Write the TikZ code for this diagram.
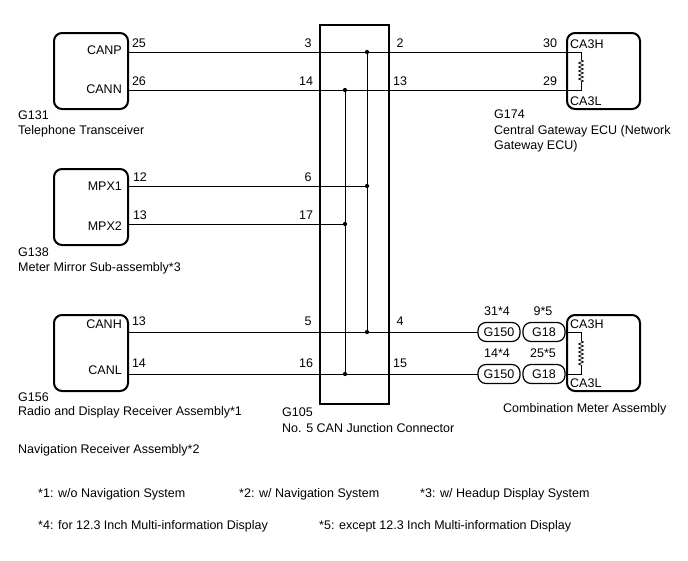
\documentclass[tikz,border=0pt]{standalone}
\usepackage{fontspec}
\setmainfont{Liberation Sans}
\usetikzlibrary{decorations.pathmorphing}
\begin{document}
\begin{tikzpicture}[x=1pt,y=-1pt,
 box/.style={draw,line width=2pt,rounded corners=8pt},
 w/.style={line width=0.7pt},
 t/.style={font=\fontsize{12.5}{14}\selectfont,inner sep=0pt},
 dot/.style={circle,fill,inner sep=1.5pt},
 pill/.style={draw,line width=1.2pt,rounded corners=8pt,minimum width=42pt,minimum height=19pt,inner sep=0pt,font=\fontsize{12.5}{14}\selectfont},
 res/.style={decorate,decoration={zigzag,segment length=4pt,amplitude=2.5pt}}]
\useasboundingbox (0,0) rectangle (688,560);
% connector
\draw[line width=1.8pt] (320,25) rectangle (389,404);
\node[t,anchor=west] (g105) at (282,412) {G105};
\node[t,anchor=west] (g105n) at (282,428) {No. 5 CAN Junction Connector};
% boxes
\draw[box] (54,33) rectangle (128,109);
\draw[box] (567,33) rectangle (640,109);
\draw[box] (54,169) rectangle (128,245);
\draw[box] (54,315) rectangle (128,391);
\draw[box] (567,315) rectangle (640,391);
% names
\node[t,anchor=east] at (122,50) {CANP};
\node[t,anchor=east] at (122,89) {CANN};
\node[t,anchor=east] at (122,186) {MPX1};
\node[t,anchor=east] at (122,226) {MPX2};
\node[t,anchor=east] at (122,324) {CANH};
\node[t,anchor=east] at (122,370) {CANL};
\node[t,anchor=west] at (570,44) {CA3H};
\node[t,anchor=west] at (570,101) {CA3L};
\node[t,anchor=west] at (570,324) {CA3H};
\node[t,anchor=west] at (570,383) {CA3L};
% resistors
\coordinate (r1a) at (581,60); \coordinate (r1b) at (581,82);
\draw[w] (567,52) -| (r1a); \draw[w,res] (r1a) -- (r1b); \draw[w] (r1b) |- (567,90);
\coordinate (r2a) at (581,341); \coordinate (r2b) at (581,365);
\draw[w] (567,332) -| (r2a); \draw[w,res] (r2a) -- (r2b); \draw[w] (r2b) |- (567,374);
% wires
\draw[w] (128,52) -- (567,52);
\draw[w] (128,90) -- (567,90);
\draw[w] (128,186) -- (367,186);
\draw[w] (128,224) -- (345,224);
\draw[w] (128,332) -- (478,332);
\draw[w] (128,374) -- (478,374);
\draw[w] (367,52) -- (367,332);
\draw[w] (345,90) -- (345,374);
\foreach \p in {(367,52),(345,90),(367,186),(345,224),(367,332),(345,374)} \node[dot] at \p {};
% pills
\node[pill] (a1) at (499,332) {G150};
\node[pill] (b1) at (544,332) {G18};
\node[pill] (a2) at (499,374) {G150};
\node[pill] (b2) at (544,374) {G18};
\draw[w] (b1.east) -- (567,332);
\draw[w] (b2.east) -- (567,374);
% pin numbers
\foreach \x/\y/\s in {139/43/25,139/81/26,140/177/12,140/215/13,139/321/13,139/363/14,
 308/43/3,306/81/14,308/177/6,306/215/17,308/321/5,306/363/16,
 400/43/2,400/81/13,400/321/4,400/363/15,550/43/30,550/81/29,
 497/311/31*4,543/311/9*5,497/353/14*4,543/353/25*5}
 \node[t] at (\x,\y) {\s};
% labels
\node[t,anchor=west] at (18,115) {G131};
\node[t,anchor=west] at (18,131) {Telephone Transceiver};
\node[t,anchor=west] at (494,114) {G174};
\node[t,anchor=west] at (494,131) {Central Gateway ECU (Network};
\node[t,anchor=west] at (494,146) {Gateway ECU)};
\node[t,anchor=west] at (18,252) {G138};
\node[t,anchor=west] at (18,268) {Meter Mirror Sub-assembly*3};
\node[t,anchor=west] at (18,397) {G156};
\node[t,anchor=west] at (18,412) {Radio and Display Receiver Assembly*1};
\node[t,anchor=west] at (18,450) {Navigation Receiver Assembly*2};
\node[t,anchor=west] at (503,409) {Combination Meter Assembly};
\node[t,anchor=west] at (38,494) {*1: w/o Navigation System};
\node[t,anchor=west] at (239,494) {*2: w/ Navigation System};
\node[t,anchor=west] at (420,494) {*3: w/ Headup Display System};
\node[t,anchor=west] at (38,526) {*4: for 12.3 Inch Multi-information Display};
\node[t,anchor=west] at (319,526) {*5: except 12.3 Inch Multi-information Display};
\end{tikzpicture}
\end{document}
